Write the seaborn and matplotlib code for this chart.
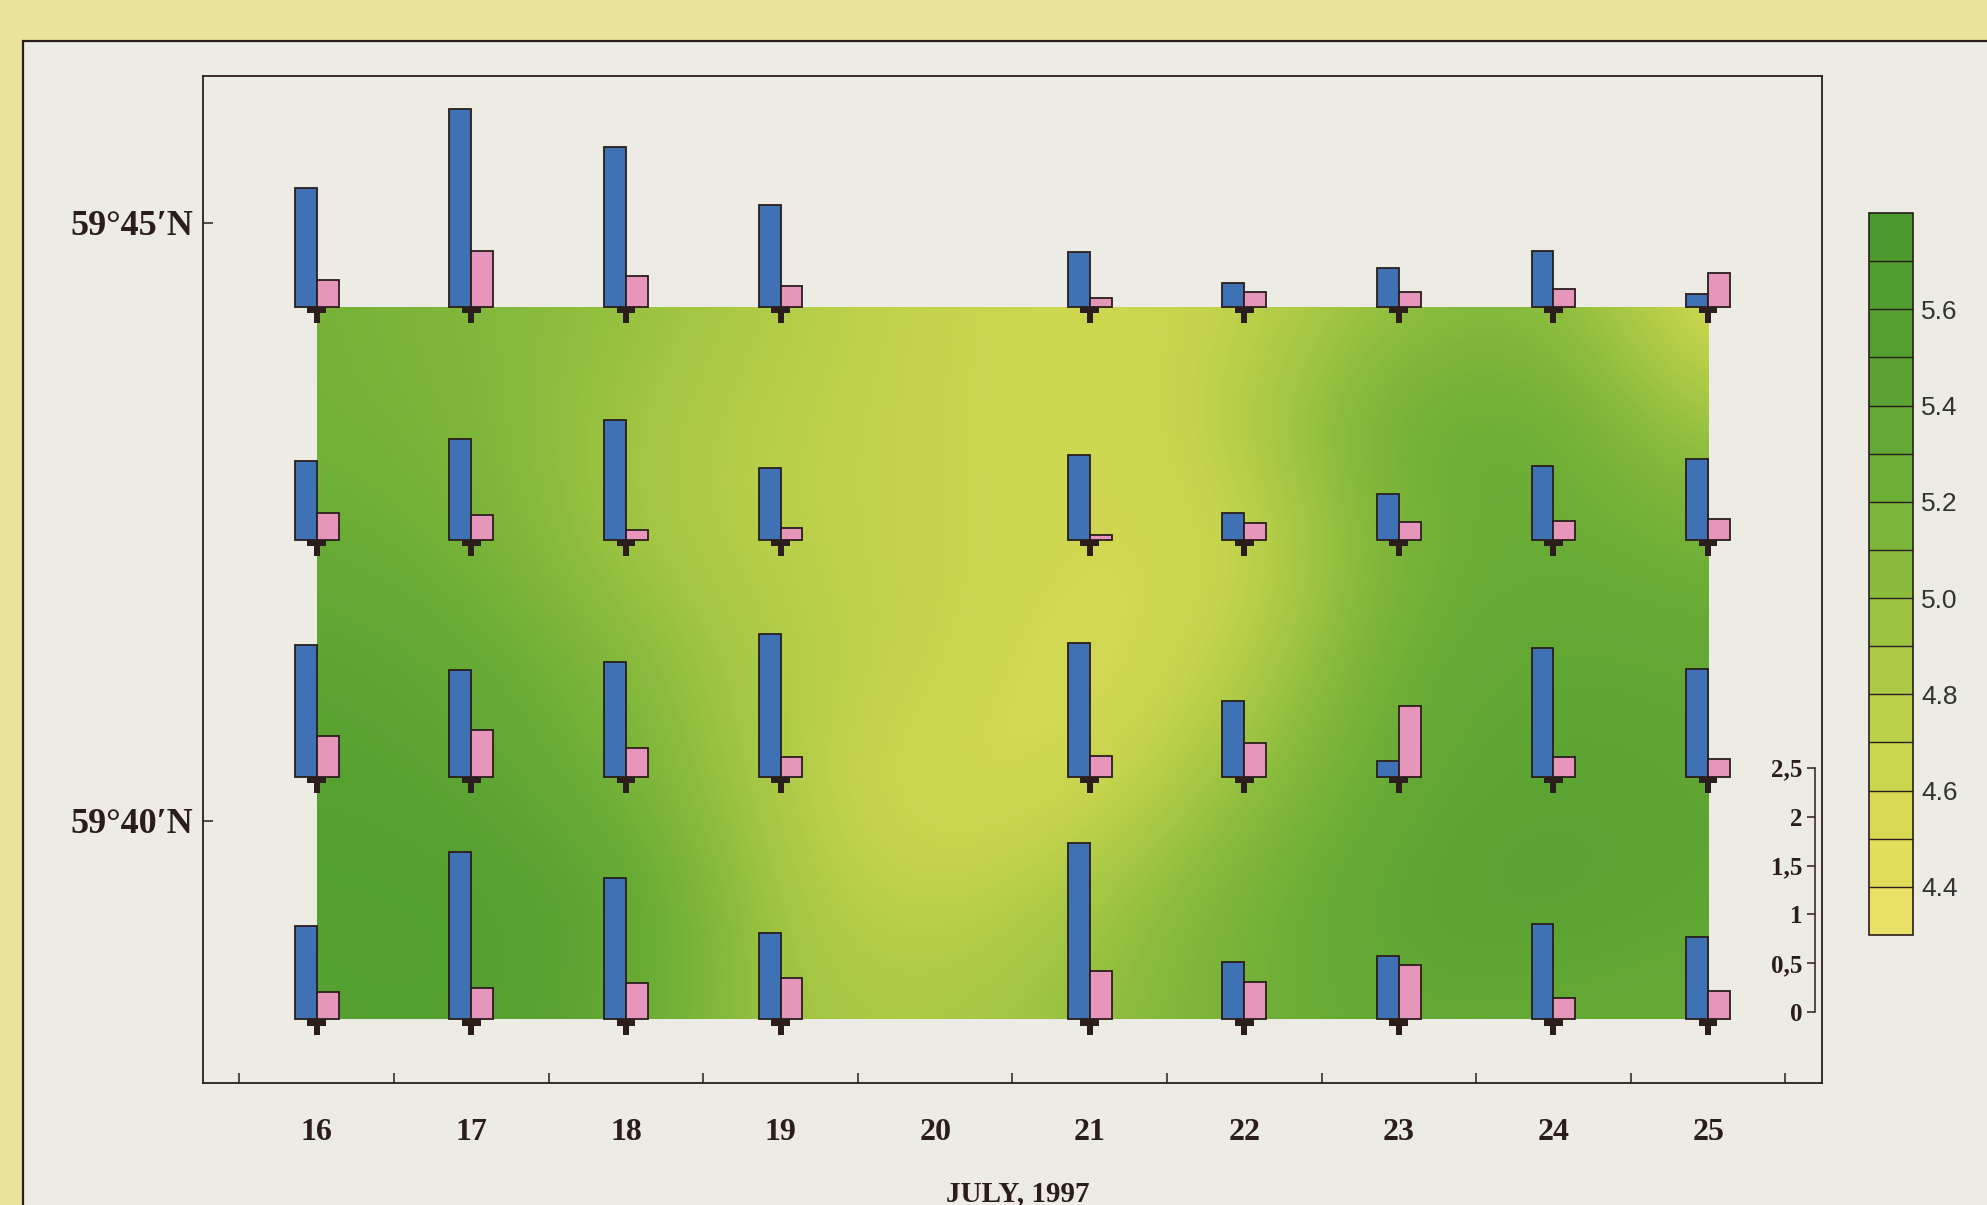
import numpy as np
import matplotlib
matplotlib.use("Agg")
import matplotlib.pyplot as plt
import seaborn as sns
from matplotlib.colors import LinearSegmentedColormap, ListedColormap, BoundaryNorm, Normalize
from matplotlib.path import Path
from matplotlib.patches import Rectangle
import matplotlib.cm as cm
import pandas as pd

# ---------------- data ----------------
station_days = [16, 17, 18, 19, 21, 22, 23, 24, 25]
station_lats = [44.30, 42.35, 40.37, 38.34]          # minutes north of 59°N

blue_row1 = [1.21, 2.02, 1.63, 1.04, 0.56, 0.24, 0.40, 0.57, 0.13]
blue_row2 = [0.81, 1.03, 1.23, 0.74, 0.87, 0.28, 0.47, 0.76, 0.83]
blue_row3 = [1.35, 1.09, 1.17, 1.46, 1.37, 0.77, 0.16, 1.32, 1.10]
blue_row4 = [0.96, 1.71, 1.45, 0.88, 1.80, 0.59, 0.65, 0.98, 0.84]

pink_row1 = [0.27, 0.57, 0.31, 0.21, 0.09, 0.15, 0.15, 0.18, 0.34]
pink_row2 = [0.28, 0.25, 0.10, 0.12, 0.05, 0.17, 0.18, 0.19, 0.21]
pink_row3 = [0.42, 0.48, 0.29, 0.20, 0.21, 0.34, 0.72, 0.20, 0.18]
pink_row4 = [0.28, 0.32, 0.37, 0.42, 0.50, 0.38, 0.56, 0.22, 0.29]

field_days = [16, 17, 18, 19, 20, 21, 22, 23, 24, 25]
field_lats = [44.3, 43.3, 42.3, 41.3, 40.3, 39.3, 38.3]
field_vals = [
    [5.20, 5.10, 5.00, 4.80, 4.70, 4.60, 4.70, 5.00, 5.10, 4.50],
    [5.20, 5.15, 4.90, 4.75, 4.70, 4.55, 4.80, 5.30, 5.30, 4.90],
    [5.30, 5.20, 4.90, 4.75, 4.70, 4.60, 4.60, 5.20, 5.30, 5.20],
    [5.45, 5.35, 5.10, 4.80, 4.70, 4.50, 4.75, 5.30, 5.40, 5.35],
    [5.50, 5.45, 5.20, 4.80, 4.55, 4.60, 5.00, 5.35, 5.45, 5.40],
    [5.55, 5.55, 5.45, 4.85, 4.70, 4.90, 5.20, 5.45, 5.50, 5.40],
    [5.50, 5.55, 5.35, 4.90, 4.85, 5.00, 5.20, 5.35, 5.30, 5.25],
]

x_labels = ["16", "17", "18", "19", "20", "21", "22", "23", "24", "25"]
lat_ticks = [45, 40]
lat_labels = ["59°45′N", "59°40′N"]
scale_ticks = [0, 0.5, 1, 1.5, 2, 2.5]
scale_labels = ["0", "0,5", "1", "1,5", "2", "2,5"]
cbar_levels = [4.3, 4.4, 4.5, 4.6, 4.7, 4.8, 4.9, 5.0, 5.1, 5.2, 5.3, 5.4, 5.5, 5.6, 5.7, 5.8]
cbar_ticks = [4.4, 4.6, 4.8, 5.0, 5.2, 5.4, 5.6]

# ---------------- style ----------------
sns.set_theme(style="white")
plt.rcParams['font.family'] = ['Liberation Serif', 'DejaVu Serif']
INK = "#2b1d1c"
PANEL = "#ECEBE4"
PAGE = "#E9E39C"
BLUE = "#3E72B4"
PINK = "#E696BA"

W, H = 1987, 1205
fig = plt.figure(figsize=(W / 100, H / 100), dpi=100, facecolor=PAGE)
fig.add_artist(Rectangle((23 / W, -0.2), 2.0, 1 - 41 / H + 0.2, transform=fig.transFigure,
                         facecolor=PANEL, edgecolor=INK, lw=1.6, zorder=-5))

ax = fig.add_axes([203 / W, 1 - 1083 / H, (1822 - 203) / W, (1083 - 76) / H])
ax.set_facecolor("none")
ax.set_xlim(15.264, 25.737)
ax.set_ylim(37.809, 46.229)

# ---------------- field ----------------
cmap = LinearSegmentedColormap.from_list("sal", [
    (0.00, "#EDE36A"), (0.133, "#DEDC57"), (0.267, "#C4D44C"), (0.40, "#A3C643"),
    (0.533, "#82B83B"), (0.667, "#67AB35"), (0.80, "#56A131"), (1.00, "#4A972E")])
norm = Normalize(vmin=4.3, vmax=5.8)
fv = np.array(field_vals)
im = ax.imshow(fv, cmap=cmap, norm=norm, interpolation="bicubic", origin="upper",
               extent=[field_days[0] - 0.5, field_days[-1] + 0.5,
                       field_lats[-1] - 0.5, field_lats[0] + 0.5],
               aspect="auto", zorder=1)
clip = Rectangle((field_days[0], station_lats[-1]), field_days[-1] - field_days[0],
                 station_lats[0] - station_lats[-1], transform=ax.transData)
im.set_clip_path(clip)

# ---------------- bars ----------------
unit = 0.818          # latitude minutes per bar unit
bw = 0.142            # bar width in days
blue_rows = [blue_row1, blue_row2, blue_row3, blue_row4]
pink_rows = [pink_row1, pink_row2, pink_row3, pink_row4]
for lat, bvals, pvals in zip(station_lats, blue_rows, pink_rows):
    d = np.array(station_days, dtype=float)
    ax.bar(d - bw, np.array(bvals) * unit, width=bw, bottom=lat, align="edge",
           color=BLUE, edgecolor=INK, linewidth=1.3, zorder=3)
    ax.bar(d, np.array(pvals) * unit, width=bw, bottom=lat, align="edge",
           color=PINK, edgecolor=INK, linewidth=1.3, zorder=3)

# station markers
tverts = [(-1, 0), (1, 0), (1, -0.7), (0.32, -0.7), (0.32, -1.7), (-0.32, -1.7),
          (-0.32, -0.7), (-1, -0.7), (-1, 0)]
tcodes = [Path.MOVETO] + [Path.LINETO] * 7 + [Path.CLOSEPOLY]
tmark = Path(tverts, tcodes)
st = pd.DataFrame([(d, lat) for lat in station_lats for d in station_days], columns=["day", "lat"])
sns.scatterplot(data=st, x="day", y="lat", marker=tmark, s=23 ** 2, color=INK,
                edgecolor="none", linewidth=0, ax=ax, zorder=4, legend=False)

# ---------------- axes styling ----------------
for sp in ax.spines.values():
    sp.set_visible(True)
    sp.set_color(INK)
    sp.set_linewidth(1.3)
ax.set_xticks(np.arange(15.5, 26.0, 1.0))
ax.set_xticklabels([])
ax.set_xticks(field_days, minor=True)
ax.set_xticklabels(x_labels, minor=True)
ax.tick_params(axis="x", which="major", direction="in", length=7, width=1.1, color=INK,
               bottom=True, top=False)
ax.tick_params(axis="x", which="minor", length=0, pad=25, labelsize=23, labelcolor=INK)
for t in ax.get_xticklabels(minor=True):
    t.set_fontweight("bold")
ax.set_yticks(lat_ticks)
ax.set_yticklabels(lat_labels)
ax.tick_params(axis="y", direction="in", length=7, width=1.1, color=INK, pad=7,
               labelsize=26, labelcolor=INK, left=True, right=False)
for t in ax.get_yticklabels():
    t.set_fontweight("bold")
ax.set_xlabel("")
ax.set_ylabel("")

fig.text(1018 / W, 1 - 1180 / H, "JULY, 1997", ha="center", va="top", fontsize=21,
         fontweight="bold", color=INK)

# ---------------- bar scale ----------------
sax = ax.inset_axes([25.69, 38.40, 0.001, 2.5 * unit], transform=ax.transData)
sax.set_facecolor("none")
sax.set_ylim(0, 2.5)
sax.set_xticks([])
for k in ["top", "right", "bottom"]:
    sax.spines[k].set_visible(False)
sax.spines["left"].set_color(INK)
sax.spines["left"].set_linewidth(1.1)
sax.set_yticks(scale_ticks)
sax.set_yticklabels(scale_labels)
sax.tick_params(axis="y", direction="out", length=6, width=1.1, color=INK, pad=3,
                labelsize=18, labelcolor=INK, left=True)
for t in sax.get_yticklabels():
    t.set_fontweight("bold")

# ---------------- colorbar ----------------
cax = fig.add_axes([1869 / W, 1 - 935 / H, (1913 - 1869) / W, (935 - 213) / H])
centers = [(a + b) / 2 for a, b in zip(cbar_levels[:-1], cbar_levels[1:])]
dcmap = ListedColormap([cmap(norm(c)) for c in centers])
bnorm = BoundaryNorm(cbar_levels, dcmap.N)
cb = fig.colorbar(cm.ScalarMappable(norm=bnorm, cmap=dcmap), cax=cax, drawedges=True,
                  ticks=cbar_ticks)
cb.minorticks_off()
cb.outline.set_edgecolor(INK)
cb.outline.set_linewidth(1.2)
cb.dividers.set_color(INK)
cb.dividers.set_linewidth(1.0)
cax.set_yticklabels([f"{v:.1f}" for v in cbar_ticks])
cax.tick_params(which="both", length=0, pad=6, labelsize=19, labelcolor="#333333")
for t in cax.get_yticklabels():
    t.set_fontfamily(["Liberation Sans", "DejaVu Sans"])

fig.savefig("out.png", dpi=100, facecolor=PAGE)
